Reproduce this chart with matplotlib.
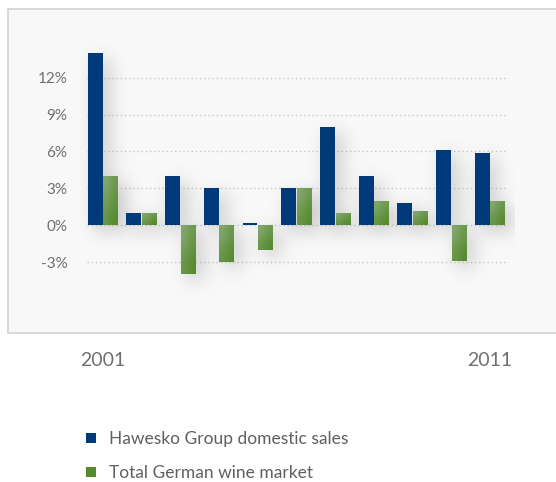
import numpy as np
import matplotlib.pyplot as plt
from matplotlib.patches import Rectangle
from matplotlib.colors import to_rgb

# year-on-year change in %
years = ['2001', '2002', '2003', '2004', '2005', '2006', '2007', '2008', '2009', '2010', '2011']
hawesko = [14.0, 1.0, 4.0, 3.0, 0.15, 3.0, 8.0, 4.0, 1.8, 6.1, 5.9]
market = [4.0, 1.0, -4.0, -3.0, -2.0, 3.0, 1.0, 2.0, 1.2, -2.9, 2.0]
yticks = [-3, 0, 3, 6, 9, 12]

BLUE = '#003a78'
GREEN = '#548a2c'
GREEN_LIGHT = '#86a872'
TXT = '#707070'

plt.rcParams['font.family'] = ['Lato', 'DejaVu Sans']

W, H = 556, 482
fig = plt.figure(figsize=(W / 100, H / 100), dpi=100)
fig.patch.set_facecolor('white')

# grey panel behind the plot
fig.add_artist(Rectangle((8 / W, (H - 333) / H), 560 / W, 324 / H,
                         transform=fig.transFigure, facecolor='#f8f8f8',
                         edgecolor='#d6d6d6', lw=1.3, zorder=0))

ax = fig.add_axes([80 / W, (H - 320) / H, 435 / W, 300 / H])
ax.set_facecolor('none')
for s in ax.spines.values():
    s.set_visible(False)

x = np.arange(len(years))
bw = 0.385
xlim = (-0.594, 10.646)
ylim = (-7.70, 16.69)
ax.set_xlim(*xlim)
ax.set_ylim(*ylim)

ax.hlines(yticks, -0.41, 10.41, colors='#c8c8c8', linestyles=(0, (1, 2)),
          lw=1.0, zorder=1)

b1 = ax.bar(x - bw / 2 - 0.01, hawesko, bw, color=BLUE, zorder=3,
            label='Hawesko Group domestic sales')
b2 = ax.bar(x + bw / 2 + 0.01, market, bw, color=GREEN, zorder=3,
            label='Total German wine market')

# soft drop shadow under the bars
nx, ny = 435, 300
gx = np.linspace(xlim[0], xlim[1], nx)
gy = np.linspace(ylim[1], ylim[0], ny)
X, Y = np.meshgrid(gx, gy)
mask = np.zeros((ny, nx))
dx, dy = 0.18, -0.5
for bars in (b1, b2):
    for p in bars:
        x0, y0 = p.get_x() + dx, p.get_y() + dy
        x1, y1 = x0 + p.get_width(), y0 + p.get_height()
        lo, hi = min(y0, y1), max(y0, y1)
        mask[(X >= x0) & (X <= x1) & (Y >= lo) & (Y <= hi)] = 1.0
k = np.exp(-0.5 * (np.arange(-27, 28) / 9.0) ** 2)
k /= k.sum()
blur = np.apply_along_axis(lambda r: np.convolve(r, k, mode='same'), 1, mask)
blur = np.apply_along_axis(lambda c: np.convolve(c, k, mode='same'), 0, blur)
shadow = np.zeros((ny, nx, 4))
shadow[..., :3] = 0.35
shadow[..., 3] = np.clip(blur, 0, 1) * 0.3
ax.imshow(shadow, extent=(*xlim, *ylim), aspect='auto', zorder=2,
          interpolation='bilinear')

# light-to-dark sheen on the green bars
cl, cd = np.array(to_rgb(GREEN_LIGHT)), np.array(to_rgb(GREEN))
grad = np.zeros((2, 2, 3))
grad[0, 0] = cl
grad[0, 1] = cl * 0.5 + cd * 0.5
grad[1, 0] = cl * 0.4 + cd * 0.6
grad[1, 1] = cd
for p in b2:
    x0, w, y0, h = p.get_x(), p.get_width(), p.get_y(), p.get_height()
    top, bot = max(y0, y0 + h), min(y0, y0 + h)
    im = ax.imshow(grad, extent=(x0, x0 + w, bot, top), aspect='auto',
                   interpolation='bicubic', zorder=4)
    im.set_clip_path(p)
ax.set_xlim(*xlim)
ax.set_ylim(*ylim)

ax.set_yticks(yticks)
ax.set_yticklabels([f'{v}%' for v in yticks])
ax.set_xticks([x[0], x[-1]])
ax.set_xticklabels([years[0], years[-1]])
ax.tick_params(axis='y', length=0, pad=9, labelsize=11, labelcolor=TXT)
ax.tick_params(axis='x', length=0, pad=23, labelsize=14, labelcolor=TXT)

fig.legend(handles=[b1, b2], loc='upper left',
           bbox_to_anchor=(86 / W, (H - 431) / H), frameon=False,
           borderpad=0, borderaxespad=0,
           fontsize=12.5, labelcolor='#606060', handlelength=0.55,
           handleheight=0.55, handletextpad=0.75, labelspacing=1.05)

fig.savefig('out.png', dpi=100)
